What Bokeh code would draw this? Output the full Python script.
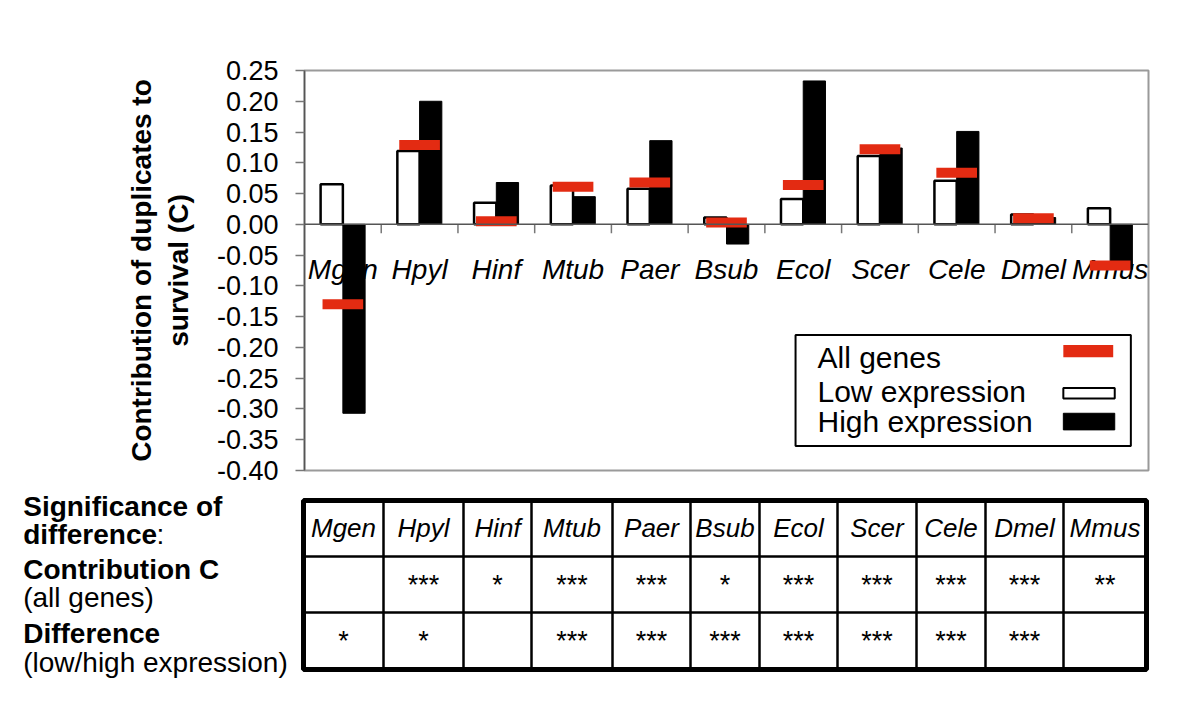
import numpy as np
from bokeh.plotting import figure
from bokeh.models import (Range1d, FixedTicker, NumeralTickFormatter, ColumnDataSource,
                          BoxAnnotation, Label, Span)
from bokeh.layouts import column
from bokeh.core.properties import value
from bokeh.embed import file_html
from bokeh.resources import INLINE

# ---------------- data ----------------
species = ["Mgen", "Hpyl", "Hinf", "Mtub", "Paer", "Bsub", "Ecol", "Scer", "Cele", "Dmel", "Mmus"]
all_genes = [-0.130, 0.129, 0.005, 0.061, 0.068, 0.003, 0.064, 0.122, 0.084, 0.010, -0.067]
low_expression = [0.065, 0.119, 0.035, 0.063, 0.058, 0.011, 0.041, 0.111, 0.071, 0.016, 0.026]
high_expression = [-0.307, 0.200, 0.068, 0.045, 0.136, -0.032, 0.233, 0.124, 0.151, 0.011, -0.073]
sig_contribution = ["", "***", "*", "***", "***", "*", "***", "***", "***", "***", "**"]
sig_difference = ["*", "*", "", "***", "***", "***", "***", "***", "***", "***", ""]
y_ticks = [-0.40, -0.35, -0.30, -0.25, -0.20, -0.15, -0.10, -0.05, 0.00, 0.05, 0.10, 0.15, 0.20, 0.25]
legend_labels = ["All genes", "Low expression", "High expression"]

FONT = "Liberation Sans"
RED = "#e32b12"

# ---------------- chart ----------------
n = len(species)
Y0, Y1 = -0.40, 0.25
FRAME_H = 400
centers = np.arange(n) + 0.5
src = ColumnDataSource(dict(
    species=species, center=centers,
    x_low=centers - 0.145, x_high=centers + 0.145,
    low=low_expression, high=high_expression, all=all_genes,
    label_y=[-0.073] * n,
))

p = figure(width=1192, height=488, x_range=Range1d(0, n), y_range=Range1d(Y0, Y1),
           output_backend="svg", toolbar_location=None, x_axis_location=None,
           min_border_left=304, min_border_right=44, min_border_top=70, min_border_bottom=18)
p.frame_align = False
p.grid.visible = False
p.background_fill_color = "white"
p.border_fill_color = "white"
p.outline_line_color = "#9a9a9a"
p.outline_line_width = 2

# zero line with small ticks at the category boundaries
p.add_layout(Span(location=0, dimension="width", line_color="#555555", line_width=1.5))
tick_len = 9 * (Y1 - Y0) / FRAME_H
bounds = list(range(1, n))
p.rect(x=bounds, y=[-tick_len / 2] * len(bounds), width=1.5, width_units="screen",
       height=tick_len, fill_color="#777777", line_color=None)

# y axis
p.yaxis.ticker = FixedTicker(ticks=y_ticks)
p.yaxis.formatter = NumeralTickFormatter(format="0.00")
p.yaxis.major_label_text_font = FONT
p.yaxis.major_label_text_font_size = "27px"
p.yaxis.major_label_text_color = "black"
p.yaxis.major_label_standoff = 17
p.yaxis.major_tick_in = 0
p.yaxis.major_tick_out = 9
p.yaxis.minor_tick_out = 0
p.yaxis.minor_tick_in = 0
p.yaxis.axis_line_color = "#555555"
p.yaxis.axis_line_width = 1.5
p.yaxis.major_tick_line_color = "#777777"
p.yaxis.major_tick_line_width = 1.5
p.yaxis.axis_label = "Contribution of duplicates to\nsurvival (C)"
p.yaxis.axis_label_text_font = FONT
p.yaxis.axis_label_text_font_style = "bold"
p.yaxis.axis_label_text_font_size = "28px"
p.yaxis.axis_label_text_color = "black"
p.yaxis.axis_label_standoff = 20

# category labels (behind the bars)
p.text(x="center", y="label_y", text="species", source=src,
       text_align="center", text_baseline="alphabetic",
       text_font=value(FONT), text_font_style="italic", text_font_size="28px",
       text_color="black")

# bars
p.vbar(x="x_low", top="low", bottom=0, width=0.29, source=src,
       fill_color="white", line_color="black", line_width=2.5)
p.vbar(x="x_high", top="high", bottom=0, width=0.29, source=src,
       fill_color="black", line_color="black", line_width=1)
# all-genes marks
p.rect(x="center", y="all", width=0.53, height=10, height_units="screen", source=src,
       fill_color=RED, line_color=None)

# legend (label left, swatch right)
p.add_layout(BoxAnnotation(left=6.40, right=10.77, top=-0.180, bottom=-0.360,
                           fill_color="white", fill_alpha=1, line_color="black",
                           line_width=2, line_alpha=1))
leg_y = [-0.217, -0.272, -0.320]
for lab, yy in zip(legend_labels, leg_y):
    p.add_layout(Label(x=6.686, y=yy, text=lab, text_font=FONT, text_font_size="30px",
                       text_baseline="alphabetic", text_color="black"))
p.add_layout(BoxAnnotation(left=9.89, right=10.54, top=-0.196, bottom=-0.216,
                           fill_color=RED, fill_alpha=1, line_alpha=0))
p.add_layout(BoxAnnotation(left=9.89, right=10.56, top=-0.266, bottom=-0.283,
                           fill_color="white", fill_alpha=1, line_color="black",
                           line_width=2, line_alpha=1))
p.add_layout(BoxAnnotation(left=9.89, right=10.56, top=-0.307, bottom=-0.334,
                           fill_color="black", fill_alpha=1, line_color="black",
                           line_alpha=1))

# ---------------- table ----------------
col_edges = [303, 383, 463, 531, 612, 690, 759, 837, 916, 985, 1063, 1146]
row_edges = [500, 556, 612, 669]

t = figure(width=1192, height=209, x_range=Range1d(0, 1192), y_range=Range1d(697, 488),
           output_backend="svg", toolbar_location=None, min_border=0,
           x_axis_location=None, y_axis_location=None)
t.frame_align = False
t.grid.visible = False
t.outline_line_color = None
t.background_fill_color = "white"
t.border_fill_color = "white"

inner_x = col_edges[1:-1]
t.segment(x0=inner_x, y0=[row_edges[0]] * len(inner_x), x1=inner_x,
          y1=[row_edges[-1]] * len(inner_x), line_color="black", line_width=2.5)
inner_y = row_edges[1:-1]
t.segment(x0=[col_edges[0]] * len(inner_y), y0=inner_y, x1=[col_edges[-1]] * len(inner_y),
          y1=inner_y, line_color="black", line_width=2.5)
t.quad(left=col_edges[0], right=col_edges[-1], top=row_edges[0], bottom=row_edges[-1],
       fill_color=None, line_color="black", line_width=5)

cell_x = [(a + b) / 2 for a, b in zip(col_edges[:-1], col_edges[1:])]
t.text(x=cell_x, y=[527] * n, text=species, text_align="center", text_baseline="middle",
       text_font=value(FONT), text_font_style="italic", text_font_size="26px",
       text_color="black")
for marks, yy in ((sig_contribution, 584), (sig_difference, 640)):
    xs = [cx for cx, m in zip(cell_x, marks) if m]
    ms = [m for m in marks if m]
    t.text(x=xs, y=[yy] * len(xs), text=ms, text_align="center",
           text_baseline="middle", text_font=value(FONT), text_font_size="27px",
           text_color="black")

row_text = [
    ("Significance of", 22.7, 506, "bold"),
    ("difference", 22.7, 534, "bold"),
    (":", 156, 534, "normal"),
    ("Contribution C", 22.7, 569, "bold"),
    ("(all genes)", 22.7, 597, "normal"),
    ("Difference", 22.7, 633, "bold"),
    ("(low/high expression)", 22.7, 662, "normal"),
]
for txt, xx, yy, style in row_text:
    t.add_layout(Label(x=xx, y=yy, text=txt, text_font=FONT, text_font_size="28px",
                       text_font_style=style, text_baseline="alphabetic",
                       text_color="black"))

layout = column(p, t, spacing=0)
open("out.html", "w").write(file_html(layout, INLINE))
